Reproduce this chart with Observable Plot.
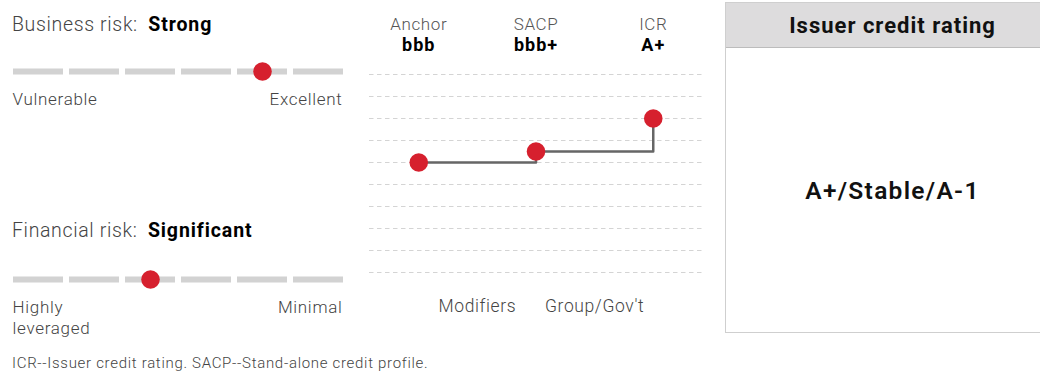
<!DOCTYPE html>
<html>
<head>
<meta charset="utf-8">
<script src="https://cdn.jsdelivr.net/npm/d3@7"></script>
<script src="https://cdn.jsdelivr.net/npm/@observablehq/plot@0.6"></script>
<style>
  body { margin: 0; background: #fff; font-family: Roboto, "Noto Sans", sans-serif; }
  #root { position: relative; width: 1040px; height: 373px; overflow: hidden; background: #fff; }
  .abs { position: absolute; }
  .title { font-size: 19.5px; line-height: 22px; color: #444; font-weight: 300; white-space: nowrap; letter-spacing: 0.65px; }
  .title b { color: #000; font-weight: 700; margin-left: 5px; letter-spacing: 0.9px; }
  svg { overflow: visible; }
  #box { left: 725px; top: 2px; width: 334px; height: 331px; border: 1px solid #cfcfcf; box-sizing: border-box; }
  #boxhead { height: 44px; background: #dddcdd; border-bottom: 1px solid #bcbcbc; display: flex; align-items: center; justify-content: center; font-size: 22px; font-weight: 700; color: #111; letter-spacing: 1px; padding-left: 1px; }
  #boxbody { position: absolute; left: 0; right: 0; top: 45px; bottom: 0; display: flex; align-items: center; justify-content: center; font-size: 24.5px; font-weight: 600; color: #111; letter-spacing: 1.3px; padding-left: 1px; }
  #note { left: 12px; top: 354px; font-size: 15px; line-height: 18px; color: #444; font-weight: 300; white-space: nowrap; letter-spacing: 0.7px; }
</style>
</head>
<body>
<div id="root">
  <div class="abs title" id="t1" style="left:12px;top:14px"></div>
  <div class="abs" id="s1" style="left:0;top:41px"></div>
  <div class="abs title" id="t2" style="left:12px;top:220px"></div>
  <div class="abs" id="s2" style="left:0;top:249px"></div>
  <div class="abs" id="mid" style="left:369px;top:0"></div>
  <div class="abs" id="box"><div id="boxhead"></div><div id="boxbody"></div></div>
  <div class="abs" id="note"></div>
</div>
<script>
// ---- data ----
const businessLabel = "Business risk:";
const businessScale = ["Vulnerable", "Weak", "Fair", "Satisfactory", "Strong", "Excellent"];
const businessValue = "Strong";
const businessEnds = ["Vulnerable", "Excellent"];

const financialLabel = "Financial risk:";
const financialScale = ["Highly leveraged", "Aggressive", "Significant", "Intermediate", "Modest", "Minimal"];
const financialValue = "Significant";
const financialEnds = ["Highly\nleveraged", "Minimal"];

const ratingLadder = ["ccc-", "ccc", "ccc+", "b-", "b", "b+", "bb-", "bb", "bb+", "bbb-", "bbb", "bbb+", "a-", "a", "a+", "aa-", "aa", "aa+", "aaa"];
const gridLevels = ratingLadder.filter((d, i) => i % 2 === 0);
const steps = ["Anchor", "SACP", "ICR"];
const stepLevels = ["bbb", "bbb+", "a+"];
const stepLabels = ["bbb", "bbb+", "A+"];
const modifiers = ["Modifiers", "Group/Gov't"];

const boxTitle = "Issuer credit rating";
const boxRating = "A+/Stable/A-1";
const footnote = "ICR--Issuer credit rating. SACP--Stand-alone credit profile.";

// ---- styles ----
const RED = "#d6202e";
const FONT = "Roboto, 'Noto Sans', sans-serif";

function slider(scale, value, ends, labelDy) {
  return Plot.plot({
    width: 360, height: 100,
    marginLeft: 12, marginRight: 16, marginTop: 0, marginBottom: 40,
    style: { fontFamily: FONT, fontSize: "17px", fontWeight: 300, color: "#444", background: "transparent", overflow: "visible", letterSpacing: "0.7px" },
    x: { type: "band", domain: scale, paddingInner: 0.1, paddingOuter: 0, axis: null },
    y: { domain: [-1, 1], axis: null },
    marks: [
      Plot.tickY(scale, { x: d => d, y: () => 0, stroke: "#d2d2d2", strokeWidth: 6 }),
      Plot.dot([value], { x: d => d, y: () => 0, r: 9.3, fill: RED, stroke: "none" }),
      Plot.text([ends[0]], { frameAnchor: "bottom-left", text: d => d, textAnchor: "start", lineAnchor: "top", dy: labelDy, fill: "#444", lineHeight: 1.25 }),
      Plot.text([ends[1]], { frameAnchor: "bottom-right", text: d => d, textAnchor: "end", lineAnchor: "top", dy: labelDy, dx: -2, fill: "#444", lineHeight: 1.25 })
    ]
  });
}

document.getElementById("t1").innerHTML = businessLabel + " <b>" + businessValue + "</b>";
document.getElementById("t2").innerHTML = financialLabel + " <b>" + financialValue + "</b>";
document.getElementById("s1").appendChild(slider(businessScale, businessValue, businessEnds, -12));
document.getElementById("s2").appendChild(slider(financialScale, financialValue, financialEnds, -12));

const stepData = steps.map((s, i) => ({ i, step: s, level: stepLevels[i], label: stepLabels[i] }));

const mid = Plot.plot({
  width: 333, height: 320,
  marginLeft: 0, marginRight: 0, marginTop: 71, marginBottom: 45,
  style: { fontFamily: FONT, fontSize: "17px", fontWeight: 300, color: "#444", background: "transparent", overflow: "visible", letterSpacing: "0.6px" },
  x: { domain: [-0.42, 2.42], axis: null },
  y: { type: "point", domain: ratingLadder.slice().reverse(), padding: 0, axis: null },
  marks: [
    Plot.ruleY(gridLevels, { y: d => d, stroke: "#d4d4d4", strokeWidth: 1, strokeDasharray: "4.5,3.5" }),
    Plot.line(stepData, { x: "i", y: "level", curve: "step-after", stroke: "#666", strokeWidth: 2.5 }),
    Plot.dot(stepData, { x: "i", y: "level", r: 9.3, fill: RED, stroke: "none" }),
    Plot.text(stepData, { x: "i", frameAnchor: "top", text: "step", lineAnchor: "middle", dy: -47, fill: "#555", fontSize: 17 }),
    Plot.text(stepData, { x: "i", frameAnchor: "top", text: "label", lineAnchor: "middle", dy: -26, fill: "#000", fontWeight: 700, fontSize: 18 }),
    Plot.text(modifiers, { x: (d, i) => i + 0.5, frameAnchor: "bottom", text: d => d, lineAnchor: "middle", dy: 31, fill: "#444", fontSize: 17.5 })
  ]
});
mid.querySelectorAll("text").forEach(t => { if (t.getAttribute("font-weight") === "700" || (t.parentNode && t.parentNode.getAttribute && t.parentNode.getAttribute("font-weight") === "700")) t.style.letterSpacing = "1px"; });
document.getElementById("mid").appendChild(mid);

document.getElementById("boxhead").textContent = boxTitle;
document.getElementById("boxbody").textContent = boxRating;
document.getElementById("note").textContent = footnote;
</script>
</body>
</html>
